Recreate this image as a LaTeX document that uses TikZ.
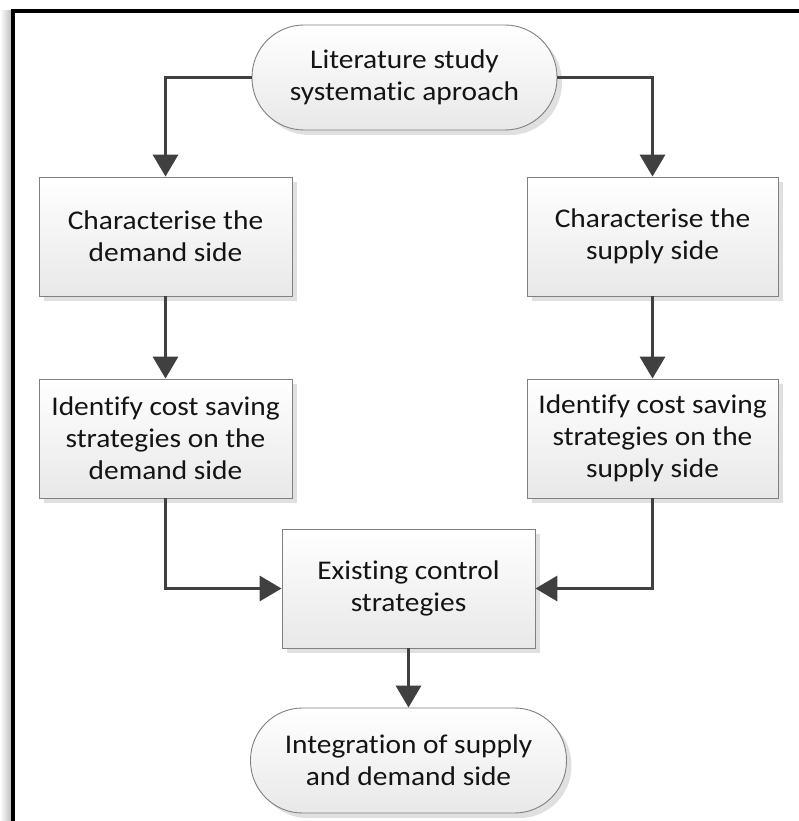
\documentclass[tikz,border=0pt]{standalone}
\usepackage{fontspec}
\setmainfont[Ligatures=NoCommon, FakeStretch=1.09]{Carlito}
\usetikzlibrary{arrows.meta,shadows}
\definecolor{linegray}{HTML}{404040}
\definecolor{edgegray}{HTML}{808080}
\definecolor{inkdark}{HTML}{141414}
\tikzset{
  flowbox/.style={draw=edgegray, line width=0.9pt, top color=white, bottom color=black!9,
    minimum width=253pt, minimum height=119pt, inner sep=0pt, align=center,
    text=inkdark, font=\fontsize{27}{32}\selectfont,
    drop shadow={shadow xshift=5pt, shadow yshift=-5pt, fill=black!12, opacity=1}},
  terminal/.style={flowbox, rounded corners=52pt, minimum height=105pt},
  flowarrow/.style={draw=linegray, line width=3.5pt,
    -{Triangle[length=22pt,width=25pt]}}
}
\begin{document}
\begin{tikzpicture}[x=1pt,y=-1pt]
  \useasboundingbox (0,0) rectangle (798,821);
  % page frame: soft shade on the left, heavy rule on top and left
  \shade[left color=white, right color=black!25] (0,11) rectangle (11,821);
  \draw[line width=4pt, line cap=rect] (13,821) -- (13,11) -- (798,11);

  \node[terminal, minimum width=305pt] (top) at (404.5,77.5) {Literature study\\systematic aproach};
  \node[flowbox] (dem1) at (165.5,236.5) {Characterise the\\demand side};
  \node[flowbox, minimum width=251pt] (sup1) at (652.5,236.5) {Characterise the\\supply side};
  \node[flowbox] (dem2) at (165.5,438.5) {Identify cost saving\\strategies on the\\demand side};
  \node[flowbox, minimum width=251pt] (sup2) at (652.5,438.5) {Identify cost saving\\strategies on the\\supply side};
  \node[flowbox] (ctrl) at (408.5,588.5) {Existing control\\strategies};
  \node[terminal, minimum width=316pt] (integ) at (408.5,760.5) {Integration of supply\\and demand side};

  \draw[flowarrow] (top.west) -| (dem1.north);
  \draw[flowarrow] (top.east) -| (sup1.north);
  \draw[flowarrow] (dem1.south) -- (dem2.north);
  \draw[flowarrow] (sup1.south) -- (sup2.north);
  \draw[flowarrow] (dem2.south) |- (ctrl.west);
  \draw[flowarrow] (sup2.south) |- (ctrl.east);
  \draw[flowarrow] (ctrl.south) -- (integ.north);
\end{tikzpicture}
\end{document}
